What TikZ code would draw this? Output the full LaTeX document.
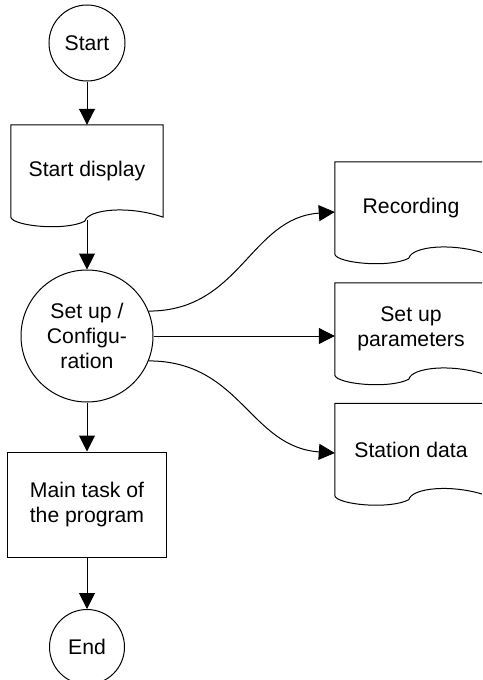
\documentclass[tikz,border=0pt]{standalone}
\usepackage{fontspec}
\setmainfont{Liberation Sans}
\usetikzlibrary{arrows.meta}

% Document symbol: straight top and sides, wavy bottom edge
\newcommand\drawdoc[1]{%
  \draw[outline] (#1.north west) -- (#1.south west)
    .. controls ([shift={(2,9)}]#1.south west) and ([shift={(55,14)}]#1.south west)
    .. ([shift={(74,4)}]#1.south west)
    .. controls ([shift={(77,-8)}]#1.south west) and ([shift={(118,-12)}]#1.south west)
    .. (#1.south east) -- (#1.north east) -- cycle;}

\begin{document}
\begin{tikzpicture}[x=1pt,y=-1pt,
  every node/.style={font=\fontsize{21.2pt}{25pt}\selectfont, align=center, inner sep=0pt},
  outline/.style={draw=black, line width=1pt},
  term/.style={outline, circle},
  docnode/.style={rectangle, minimum width=152pt, minimum height=92pt},
  procbox/.style={outline, rectangle, minimum width=159pt, minimum height=105pt},
  flow/.style={draw=black, line width=1pt, -{Triangle[length=16pt,width=16pt]}}]

\clip (0,0) rectangle (482,680);

% main column
\node[term, minimum size=76pt] (start) at (87,43) {Start};
\node[docnode] (sd) at (87,171) {Start display};
\node[term, minimum size=132pt] (su) at (87,336) {Set up /\\Configu-\\ration};
\node[procbox] (main) at (87,504.5) {Main task of\\the program};
\node[term, minimum size=75pt] (end) at (87,647) {End};

% configuration outputs
\node[docnode] (rec) at (411,208) {Recording};
\node[docnode] (par) at (411,329) {Set up\\parameters};
\node[docnode] (sta) at (411,449.5) {Station data};

\drawdoc{sd}
\drawdoc{rec}
\drawdoc{par}
\drawdoc{sta}

% connectors
\path (sd.south) ++(0,3) coordinate (sdout);
\draw[flow] (start.south) -- (sd.north);
\draw[flow] (sdout) -- (su.north);
\draw[flow] (su.south) -- (main.north);
\draw[flow] (main.south) -- (end.north);

\draw[flow] (su.22) .. controls +(92,0) and +(-85,6) .. ([yshift=-4pt]rec.west);
\draw[flow] (su.east) -- (su.east -| par.west);
\draw[flow] (su.-22) .. controls +(92,0) and +(-85,-6) .. ([yshift=-3.5pt]sta.west);
\end{tikzpicture}
\end{document}
